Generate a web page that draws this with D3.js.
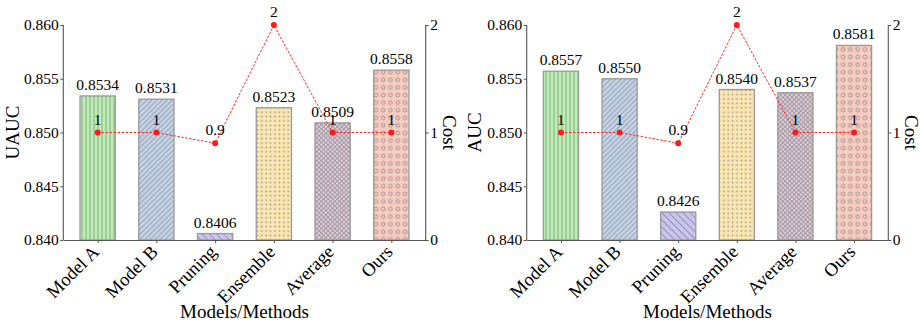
<!DOCTYPE html>
<html>
<head>
<meta charset="utf-8">
<script src="https://cdn.jsdelivr.net/npm/d3@7"></script>
<style>
  body { margin: 0; background: #fff; }
  svg { font-family: "Liberation Serif", "Times New Roman", serif; }
</style>
</head>
<body>
<svg id="chart" width="921" height="328"></svg>
<script>
// data
var methods = ["Model A", "Model B", "Pruning", "Ensemble", "Average", "Ours"];
var uauc = [0.8534, 0.8531, 0.8406, 0.8523, 0.8509, 0.8558];
var auc = [0.8557, 0.8550, 0.8426, 0.8540, 0.8537, 0.8581];
var cost = [1, 1, 0.9, 2, 1, 1];
var costLabels = ["1", "1", "0.9", "2", "1", "1"];
var metricTicks = [0.840, 0.845, 0.850, 0.855, 0.860];
var costTicks = [0, 1, 2];

var svg = d3.select("#chart");
var defs = svg.append("defs");

// fills and hatch styles per bar
var fills = ["#b9f1b1", "#c6d8ee", "#c9c4f3", "#fbe6b1", "#edd4e7", "#f9cbbf"];
var hatchCol = "#8a8a8a";

function makePatterns(pid) {
  // vertical lines
  var p = defs.append("pattern").attr("id", pid + "p0").attr("patternUnits", "userSpaceOnUse")
    .attr("width", 4).attr("height", 4);
  p.append("rect").attr("width", 4).attr("height", 4).attr("fill", fills[0]);
  p.append("line").attr("x1", 2).attr("x2", 2).attr("y1", 0).attr("y2", 4)
    .attr("stroke", hatchCol).attr("stroke-width", 0.8);

  // dense forward diagonal
  p = defs.append("pattern").attr("id", pid + "p1").attr("patternUnits", "userSpaceOnUse")
    .attr("width", 3.6).attr("height", 3.6).attr("patternTransform", "rotate(45)");
  p.append("rect").attr("width", 3.6).attr("height", 3.6).attr("fill", fills[1]);
  p.append("line").attr("x1", 1.8).attr("x2", 1.8).attr("y1", 0).attr("y2", 3.6)
    .attr("stroke", hatchCol).attr("stroke-width", 0.8);

  // back diagonal
  p = defs.append("pattern").attr("id", pid + "p2").attr("patternUnits", "userSpaceOnUse")
    .attr("width", 5).attr("height", 5).attr("patternTransform", "rotate(-45)");
  p.append("rect").attr("width", 5).attr("height", 5).attr("fill", fills[2]);
  p.append("line").attr("x1", 2.5).attr("x2", 2.5).attr("y1", 0).attr("y2", 5)
    .attr("stroke", hatchCol).attr("stroke-width", 0.8);

  // small dots
  p = defs.append("pattern").attr("id", pid + "p3").attr("patternUnits", "userSpaceOnUse")
    .attr("width", 4.4).attr("height", 4.4);
  p.append("rect").attr("width", 4.4).attr("height", 4.4).attr("fill", fills[3]);
  p.append("rect").attr("x", 1.5).attr("y", 1.5).attr("width", 1.4).attr("height", 1.4)
    .attr("fill", hatchCol);

  // cross hatch
  p = defs.append("pattern").attr("id", pid + "p4").attr("patternUnits", "userSpaceOnUse")
    .attr("width", 3.2).attr("height", 3.2).attr("patternTransform", "rotate(45)");
  p.append("rect").attr("width", 3.2).attr("height", 3.2).attr("fill", fills[4]);
  p.append("line").attr("x1", 1.6).attr("x2", 1.6).attr("y1", 0).attr("y2", 3.2)
    .attr("stroke", hatchCol).attr("stroke-width", 0.8);
  p.append("line").attr("y1", 1.6).attr("y2", 1.6).attr("x1", 0).attr("x2", 3.2)
    .attr("stroke", hatchCol).attr("stroke-width", 0.8);

  // circles
  p = defs.append("pattern").attr("id", pid + "p5").attr("patternUnits", "userSpaceOnUse")
    .attr("width", 7.3).attr("height", 7.6);
  p.append("rect").attr("width", 7.3).attr("height", 7.6).attr("fill", fills[5]);
  p.append("circle").attr("cx", 3.6).attr("cy", 3.8).attr("r", 1.9)
    .attr("fill", "none").attr("stroke", hatchCol).attr("stroke-width", 0.8);
}

function panel(pid, vals, yLabel, left, right, yLabX, costLabX) {
  makePatterns(pid);
  var top = 25, bottom = 240;

  var x = d3.scaleLinear().domain([-0.585, 5.585]).range([left, right]);
  var y = d3.scaleLinear().domain([0.840, 0.860]).range([bottom, top]);
  var yc = d3.scaleLinear().domain([0, 2]).range([bottom, top]);
  var bw = x(0.6) - x(0);

  var g = svg.append("g");

  // bars
  g.selectAll("rect.bar").data(vals).enter().append("rect")
    .attr("class", "bar")
    .attr("x", function(d, i) { return x(i) - bw / 2; })
    .attr("y", function(d) { return y(d); })
    .attr("width", bw)
    .attr("height", function(d) { return bottom - y(d); })
    .attr("fill", function(d, i) { return "url(#" + pid + "p" + i + ")"; })
    .attr("stroke", "#9a9a9a")
    .attr("stroke-width", 1.3);

  // bar values
  g.selectAll("text.val").data(vals).enter().append("text")
    .attr("class", "val")
    .attr("x", function(d, i) { return x(i); })
    .attr("y", function(d) { return y(d) - 6; })
    .attr("text-anchor", "middle")
    .style("font-size", "15.5px")
    .text(function(d) { return d.toFixed(4); });

  // axes
  var yAxis = d3.axisLeft(y).tickValues(metricTicks).tickFormat(d3.format(".3f"))
    .tickSize(3).tickPadding(1.5);
  var ga = g.append("g").attr("transform", "translate(" + left + ",0)").call(yAxis);

  var cAxis = d3.axisRight(yc).tickValues(costTicks).tickFormat(d3.format("d"))
    .tickSize(3).tickPadding(1.5);
  var gc = g.append("g").attr("transform", "translate(" + right + ",0)").call(cAxis);

  var xAxis = d3.axisBottom(x).tickValues(d3.range(methods.length))
    .tickFormat(function(i) { return methods[i]; }).tickSize(3).tickSizeOuter(0);
  var gx = g.append("g").attr("transform", "translate(0," + bottom + ")").call(xAxis);
  gx.selectAll(".tick text")
    .attr("text-anchor", "end")
    .attr("dy", null).attr("y", null)
    .attr("transform", "translate(2,13) rotate(-45)");

  [ga, gc, gx].forEach(function(a) {
    a.attr("font-family", null);
    a.selectAll(".domain").attr("stroke", "#555").attr("stroke-width", 1.1);
    a.selectAll(".tick line").attr("stroke", "#555");
    a.selectAll(".tick text").attr("fill", "#000")
      .style("font-family", "'Liberation Serif', serif").style("font-size", "15.5px");
  });
  gx.selectAll(".tick text").style("font-size", "18.5px");
  ga.select(".domain").attr("d", "M0," + top + "V" + bottom);
  gc.select(".domain").attr("d", "M0," + top + "V" + bottom);

  // cost line
  var line = d3.line().x(function(d, i) { return x(i); }).y(function(d) { return yc(d); });
  g.append("path").datum(cost)
    .attr("d", line)
    .attr("fill", "none")
    .attr("stroke", "#ff2a2a")
    .attr("stroke-width", 1)
    .attr("stroke-dasharray", "2.5,1.5");
  g.selectAll("circle.pt").data(cost).enter().append("circle")
    .attr("class", "pt")
    .attr("cx", function(d, i) { return x(i); })
    .attr("cy", function(d) { return yc(d); })
    .attr("r", 3)
    .attr("fill", "#ff1a1a");
  g.selectAll("text.cl").data(cost).enter().append("text")
    .attr("class", "cl")
    .attr("x", function(d, i) { return x(i); })
    .attr("y", function(d) { return yc(d) - 8; })
    .attr("text-anchor", "middle")
    .style("font-size", "15.5px")
    .text(function(d, i) { return costLabels[i]; });

  // titles
  g.append("text")
    .attr("transform", "translate(" + yLabX + "," + ((top + bottom) / 2) + ") rotate(-90)")
    .attr("text-anchor", "middle")
    .style("font-size", "19px")
    .text(yLabel);
  g.append("text")
    .attr("transform", "translate(" + costLabX + "," + ((top + bottom) / 2) + ") rotate(90)")
    .attr("text-anchor", "middle")
    .style("font-size", "19px")
    .text("Cost");
  g.append("text")
    .attr("x", (left + right) / 2)
    .attr("y", 318)
    .attr("text-anchor", "middle")
    .style("font-size", "19px")
    .text("Models/Methods");
}

panel("L", uauc, "UAUC", 63.3, 425.7, 18.5, 443);
panel("R", auc, "AUC", 526.7, 888.3, 480.5, 904.5);
</script>
</body>
</html>
